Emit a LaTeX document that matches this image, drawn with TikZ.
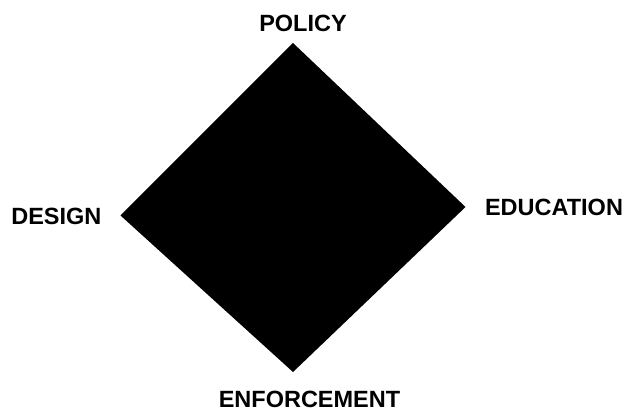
\documentclass[tikz,border=0pt]{standalone}
\usepackage{fontspec}
\setmainfont{Liberation Sans}
\begin{document}
\begin{tikzpicture}[x=1pt,y=-1pt,
  lbl/.style={anchor=base,inner sep=0pt,font=\fontsize{23.5}{28}\selectfont\bfseries}]
\useasboundingbox (0,0) rectangle (629,411);
\coordinate (t) at (293,43);
\coordinate (r) at (465.5,207);
\coordinate (b) at (293,372);
\coordinate (l) at (120.5,215.5);
\fill[black] (t) -- (r) -- (b) -- (l) -- cycle;
\node[lbl] (policy) at (303,32) {POLICY};
\node[lbl] (design) at (56.4,225) {DESIGN};
\node[lbl] (education) at (554,216) {EDUCATION};
\node[lbl] (enforcement) at (309.5,407.7) {ENFORCEMENT};
\end{tikzpicture}
\end{document}
